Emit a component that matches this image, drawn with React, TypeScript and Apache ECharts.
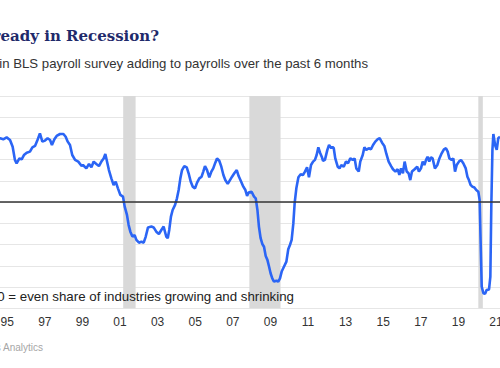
import React, { useEffect, useRef } from "react";
import * as echarts from "echarts";

// Decimal-year positions of the readings and the share (%) of industries adding jobs
const pointYears = [
  1994.4, 1994.62, 1994.79, 1994.97, 1995.15, 1995.29, 1995.41, 1995.5, 1995.65, 1995.77, 1995.89,
  1996.04, 1996.21, 1996.34, 1996.48, 1996.6, 1996.74, 1996.87, 1997.01, 1997.15, 1997.28, 1997.38,
  1997.51, 1997.63, 1997.81, 1997.99, 1998.11, 1998.22, 1998.34, 1998.46, 1998.61, 1998.78, 1998.96,
  1999.03, 1999.21, 1999.35, 1999.48, 1999.6, 1999.74, 1999.88, 2000.01, 2000.13, 2000.22, 2000.33,
  2000.41, 2000.54, 2000.66, 2000.77, 2000.89, 2001.02, 2001.16, 2001.25, 2001.37, 2001.46, 2001.55,
  2001.66, 2001.78, 2001.87, 2002.01, 2002.14, 2002.26, 2002.37, 2002.49, 2002.67, 2002.79, 2002.93,
  2003.07, 2003.2, 2003.32, 2003.46, 2003.54, 2003.62, 2003.71, 2003.8, 2003.93, 2004.03, 2004.12,
  2004.21, 2004.3, 2004.42, 2004.55, 2004.65, 2004.76, 2004.87, 2004.99, 2005.1, 2005.22, 2005.34,
  2005.43, 2005.52, 2005.63, 2005.75, 2005.86, 2005.96, 2006.07, 2006.16, 2006.28, 2006.39, 2006.5,
  2006.6, 2006.73, 2006.85, 2006.96, 2007.08, 2007.21, 2007.31, 2007.44, 2007.56, 2007.67, 2007.76,
  2007.84, 2008.0, 2008.13, 2008.22, 2008.31, 2008.39, 2008.48, 2008.57, 2008.66, 2008.75, 2008.84,
  2008.93, 2009.01, 2009.1, 2009.19, 2009.32, 2009.42, 2009.51, 2009.6, 2009.72, 2009.85, 2009.95,
  2010.04, 2010.13, 2010.22, 2010.29, 2010.38, 2010.49, 2010.61, 2010.73, 2010.84, 2010.95, 2011.05,
  2011.16, 2011.27, 2011.37, 2011.46, 2011.55, 2011.64, 2011.73, 2011.8, 2011.9, 2012.03, 2012.12,
  2012.24, 2012.3, 2012.37, 2012.45, 2012.58, 2012.68, 2012.77, 2012.9, 2013.02, 2013.13, 2013.25,
  2013.38, 2013.48, 2013.57, 2013.7, 2013.78, 2013.91, 2014.0, 2014.1, 2014.23, 2014.35, 2014.46,
  2014.58, 2014.71, 2014.81, 2014.94, 2015.06, 2015.17, 2015.29, 2015.42, 2015.52, 2015.65, 2015.77,
  2015.86, 2015.95, 2016.05, 2016.14, 2016.25, 2016.35, 2016.44, 2016.53, 2016.67, 2016.81, 2016.9,
  2017.01, 2017.1, 2017.19, 2017.28, 2017.36, 2017.45, 2017.54, 2017.63, 2017.75, 2017.88, 2017.99,
  2018.11, 2018.23, 2018.34, 2018.43, 2018.52, 2018.64, 2018.73, 2018.82, 2018.91, 2019.03, 2019.14,
  2019.26, 2019.39, 2019.48, 2019.56, 2019.65, 2019.74, 2019.85, 2019.95, 2020.06, 2020.13, 2020.18,
  2020.24, 2020.33, 2020.42, 2020.5, 2020.63, 2020.7, 2020.75, 2020.81, 2020.86, 2020.95, 2021.04,
  2021.12, 2021.21,
];

const pointValues = [
  79.0, 80.1, 79.6, 80.5, 79.3, 76.1, 69.9, 68.3, 70.6, 70.2, 72.2,
  73.3, 73.8, 75.8, 76.5, 79.0, 82.4, 78.5, 79.0, 80.1, 79.3, 76.9,
  79.6, 81.2, 82.1, 82.1, 80.8, 78.5, 76.9, 72.2, 69.9, 69.1, 67.0,
  67.5, 65.9, 68.0, 66.4, 69.1, 68.0, 67.0, 69.1, 70.6, 72.7, 68.3,
  65.1, 61.2, 58.1, 59.7, 56.5, 53.4, 52.6, 47.9, 44.0, 39.2, 36.1,
  33.8, 34.5, 32.2, 30.9, 31.4, 30.9, 33.8, 38.1, 38.5, 38.1, 36.1,
  35.0, 36.9, 38.5, 33.8, 33.0, 36.9, 43.2, 46.3, 48.7, 51.8, 55.7,
  61.2, 65.1, 67.0, 66.4, 63.6, 59.7, 57.3, 56.5, 59.2, 61.2, 62.0,
  64.4, 67.0, 65.1, 61.7, 64.4, 65.9, 68.6, 70.6, 69.5, 66.7, 62.8,
  60.4, 58.6, 60.4, 62.0, 63.6, 65.1, 62.3, 59.7, 57.3, 55.7, 52.9,
  54.5, 54.9, 52.6, 51.8, 46.3, 38.5, 33.0, 30.3, 29.0, 24.6, 22.8,
  19.6, 16.5, 14.1, 12.6, 13.0, 12.6, 14.1, 17.3, 19.6, 22.0, 27.8,
  29.8, 32.2, 40.0, 49.5, 56.5, 61.7, 63.1, 62.8, 64.4, 66.4, 61.7,
  67.5, 69.1, 69.9, 72.2, 75.8, 73.3, 71.4, 69.5, 69.9, 74.6, 76.9,
  75.4, 76.1, 75.4, 70.6, 66.7, 65.9, 67.5, 66.7, 69.1, 68.3, 70.6,
  69.9, 70.6, 65.9, 64.4, 69.1, 72.2, 75.8, 74.6, 75.4, 74.9, 76.9,
  78.5, 79.7, 80.1, 78.0, 76.5, 72.7, 69.1, 67.0, 65.5, 64.4, 65.5,
  62.8, 65.9, 63.6, 69.1, 64.4, 63.6, 60.4, 64.4, 65.5, 66.7, 64.4,
  65.9, 69.1, 67.5, 69.9, 71.4, 69.1, 71.1, 70.6, 65.9, 67.5, 70.6,
  73.0, 74.9, 75.4, 73.8, 70.6, 69.9, 70.6, 64.4, 67.5, 69.1, 69.9,
  68.3, 65.9, 62.0, 60.4, 58.1, 57.3, 56.9, 55.7, 54.9, 51.0, 32.2,
  10.2, 7.1, 6.8, 8.6, 8.9, 14.9, 47.9, 74.6, 82.1, 76.9, 74.6,
  80.1, 80.8,
];

const recessionStarts = [2001.17, 2007.88, 2020.06];
const recessionEnds = [2001.83, 2009.54, 2020.3];
const evenShareLevel = 50;

const titleText = "Are We Already in Recession?";
const subtitleText = "% of industries in BLS payroll survey adding to payrolls over the past 6 months";
const noteText = "50 = even share of industries growing and shrinking";
const sourceText = "Sources: BLS, Moody's Analytics";

const CHART_W = 680;
const CHART_H = 368;
const OFFSET = -120;

export default function App() {
  const ref = useRef<HTMLDivElement>(null);

  useEffect(() => {
    if (!ref.current) return;
    const chart = echarts.init(ref.current, null, { renderer: "svg", width: CHART_W, height: CHART_H });
    const data = pointYears.map((y, i) => [y, pointValues[i]]);
    chart.setOption({
      animation: false,
      backgroundColor: "#ffffff",
      grid: { left: 89.6, right: 26.4, top: 96, bottom: 59.7, containLabel: false },
      xAxis: {
        type: "value",
        min: 1993,
        max: 2023,
        interval: 1,
        axisLine: { show: false },
        axisTick: { show: false },
        splitLine: { show: false },
        axisLabel: {
          margin: 8,
          color: "#333333",
          fontSize: 12,
          fontFamily: "Liberation Sans, Arial, sans-serif",
          formatter: (v: number) => {
            const y = Math.round(v);
            return y % 2 === 1 ? String(y).slice(2) : "";
          },
        },
      },
      yAxis: {
        type: "value",
        min: 0,
        max: 100,
        interval: 10,
        axisLine: { show: false },
        axisTick: { show: false },
        axisLabel: { show: false },
        splitLine: { lineStyle: { color: "#e6e6e6", width: 1.2 } },
      },
      series: [
        {
          type: "line",
          data,
          showSymbol: false,
          symbol: "none",
          lineStyle: { color: "#2b65f5", width: 2.6 },
          itemStyle: { color: "#2b65f5" },
          silent: true,
          z: 3,
          markArea: {
            silent: true,
            itemStyle: { color: "#d9d9d9" },
            data: recessionStarts.map((s, i) => [{ xAxis: s }, { xAxis: recessionEnds[i] }]),
          },
          markLine: {
            silent: true,
            symbol: ["none", "none"],
            label: { show: false },
            lineStyle: { color: "#333333", width: 1.5, type: "solid" },
            data: [{ yAxis: evenShareLevel }],
          },
        },
      ],
      graphic: [
        {
          type: "text",
          x: 279,
          y: 35.5,
          style: {
            text: titleText,
            align: "right",
            verticalAlign: "middle",
            fill: "#1f2a6b",
            font: "bold 15px 'DejaVu Serif', serif",
          },
        },
        {
          type: "text",
          x: 488,
          y: 63.5,
          style: {
            text: subtitleText,
            align: "right",
            verticalAlign: "middle",
            fill: "#333333",
            font: "13.2px 'Liberation Sans', Arial, sans-serif",
          },
        },
        {
          type: "text",
          x: 414,
          y: 296,
          z: 10,
          style: {
            text: noteText,
            align: "right",
            verticalAlign: "middle",
            fill: "#222222",
            font: "13.3px 'Liberation Sans', Arial, sans-serif",
          },
        },
        {
          type: "text",
          x: 163,
          y: 347.5,
          style: {
            text: sourceText,
            align: "right",
            verticalAlign: "middle",
            fill: "#a6a6a6",
            font: "10px 'Liberation Sans', Arial, sans-serif",
          },
        },
      ],
    });
    return () => chart.dispose();
  }, []);

  return (
    <div
      style={{
        position: "fixed",
        left: 0,
        top: 0,
        width: 500,
        height: 368,
        overflow: "hidden",
        background: "#ffffff",
      }}
    >
      <div
        ref={ref}
        style={{ position: "absolute", left: OFFSET, top: 0, width: CHART_W, height: CHART_H }}
      />
    </div>
  );
}
